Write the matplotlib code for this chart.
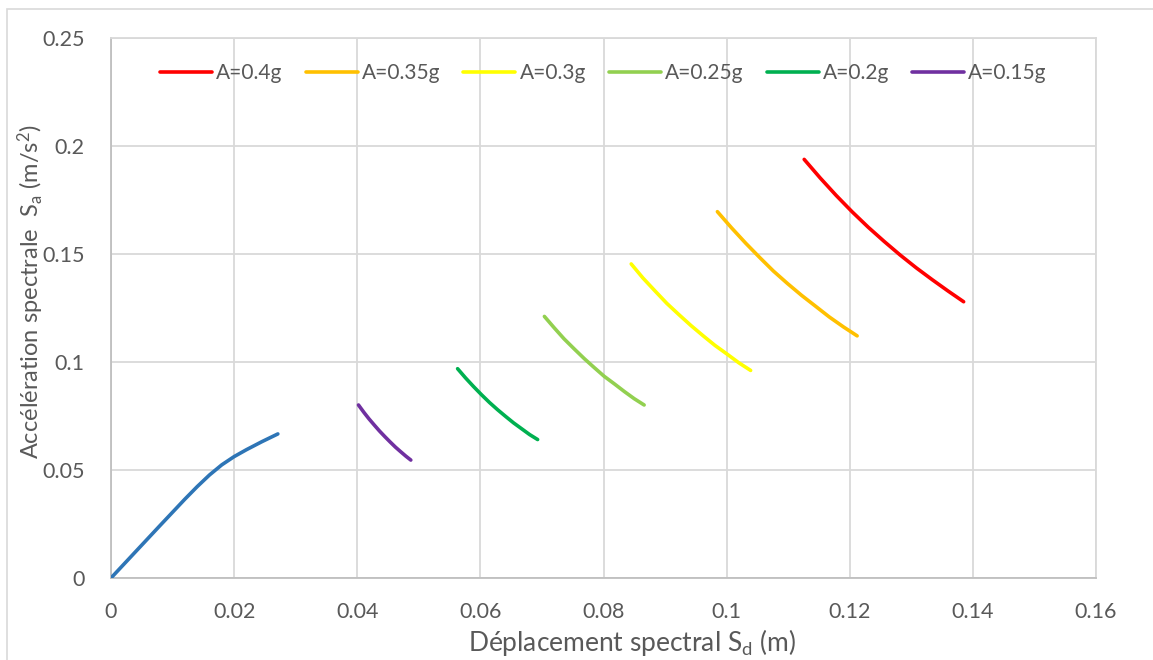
"""
Spectre de capacité (courbe bleue) et spectres de demande pour différentes accélérations A.
"""
import matplotlib.pyplot as plt
from matplotlib.patches import Rectangle

plt.rcParams.update(
    {
        "font.family": ["Lato", "DejaVu Sans"],
        "mathtext.default": "regular",
        "font.size": 14,
        "text.color": "#595959",
        "xtick.color": "#595959",
        "ytick.color": "#595959",
        "axes.labelcolor": "#595959",
    }
)

# courbe de capacité
cap_sd = [0.0, 0.004, 0.008, 0.012, 0.014, 0.016, 0.018, 0.020, 0.022, 0.0245, 0.0271]
cap_sa = [0.0, 0.0122, 0.0244, 0.0365, 0.0423, 0.0477, 0.0524, 0.0562, 0.0594, 0.0631, 0.0667]

# spectres de demande
labels = ["A=0.4g", "A=0.35g", "A=0.3g", "A=0.25g", "A=0.2g", "A=0.15g"]
colors = ["#FF0000", "#FFC000", "#FFFF00", "#92D050", "#00B050", "#7030A0"]

sd_04 = [0.1126, 0.1152, 0.1178, 0.1204, 0.1230, 0.1256, 0.1282, 0.1308, 0.1334, 0.1360, 0.1385]
sa_04 = [0.1938, 0.1852, 0.1771, 0.1695, 0.1624, 0.1558, 0.1495, 0.1436, 0.1381, 0.1328, 0.1279]
sd_035 = [0.0985, 0.1008, 0.1031, 0.1054, 0.1076, 0.1099, 0.1122, 0.1145, 0.1167, 0.1190, 0.1212]
sa_035 = [0.1696, 0.1621, 0.1550, 0.1483, 0.1421, 0.1363, 0.1308, 0.1257, 0.1208, 0.1162, 0.1121]
sd_03 = [0.0845, 0.0864, 0.0884, 0.0903, 0.0923, 0.0942, 0.0962, 0.0981, 0.1001, 0.1020, 0.1039]
sa_03 = [0.1454, 0.1389, 0.1328, 0.1271, 0.1218, 0.1169, 0.1121, 0.1077, 0.1036, 0.0996, 0.0961]
sd_025 = [0.0704, 0.0720, 0.0736, 0.0753, 0.0769, 0.0785, 0.0801, 0.0818, 0.0834, 0.0850, 0.0866]
sa_025 = [0.1211, 0.1158, 0.1107, 0.1059, 0.1015, 0.0974, 0.0934, 0.0898, 0.0863, 0.0830, 0.0801]
sd_02 = [0.0563, 0.0576, 0.0589, 0.0602, 0.0615, 0.0628, 0.0641, 0.0654, 0.0667, 0.0680, 0.0693]
sa_02 = [0.0969, 0.0926, 0.0886, 0.0848, 0.0812, 0.0779, 0.0748, 0.0718, 0.0691, 0.0664, 0.0641]
sd_015 = [0.0402, 0.0411, 0.0419, 0.0428, 0.0436, 0.0445, 0.0453, 0.0462, 0.0470, 0.0479, 0.0487]
sa_015 = [0.0801, 0.0766, 0.0737, 0.0707, 0.0681, 0.0654, 0.0631, 0.0606, 0.0586, 0.0564, 0.0546]

demand = [(sd_04, sa_04), (sd_035, sa_035), (sd_03, sa_03),
          (sd_025, sa_025), (sd_02, sa_02), (sd_015, sa_015)]

x_ticks = [0, 0.02, 0.04, 0.06, 0.08, 0.1, 0.12, 0.14, 0.16]
x_ticklabels = ["0", "0.02", "0.04", "0.06", "0.08", "0.1", "0.12", "0.14", "0.16"]
y_ticks = [0, 0.05, 0.1, 0.15, 0.2, 0.25]
y_ticklabels = ["0", "0.05", "0.1", "0.15", "0.2", "0.25"]

fig = plt.figure(figsize=(11.53, 6.60), dpi=100)
fig.patches.append(Rectangle((7 / 1153, -0.1), 1.2, 1.1 - 9 / 660, transform=fig.transFigure,
                             fill=False, ec="#d9d9d9", lw=1.2))
ax = fig.add_axes([111 / 1153, 1 - 578 / 660, 985 / 1153, 540 / 660])

ax.plot(cap_sd, cap_sa, color="#2E75B6", lw=2.6, solid_capstyle="round", zorder=3)
for (sd, sa), c, lab in zip(demand, colors, labels):
    ax.plot(sd, sa, color=c, lw=2.6, solid_capstyle="round", label=lab, zorder=3)

ax.set_xlim(0, 0.16)
ax.set_ylim(0, 0.25)
ax.set_xticks(x_ticks, x_ticklabels)
ax.set_yticks(y_ticks, y_ticklabels)
ax.tick_params(length=0, labelsize=15.5)
ax.tick_params(axis="x", pad=17)
ax.tick_params(axis="y", pad=19)
ax.grid(color="#d9d9d9", lw=1.3)
for s in ax.spines.values():
    s.set_color("#d9d9d9")
    s.set_linewidth(1.3)
ax.spines["bottom"].set_color("#bfbfbf")
ax.spines["left"].set_color("#bfbfbf")

ax.set_xlabel("Déplacement spectral S$_d$ (m)", fontsize=19)
ax.set_ylabel("Accélération spectrale  S$_a$ (m/s$^2$)", fontsize=17)
ax.xaxis.set_label_coords(0.529, -0.09)
ax.yaxis.set_label_coords(-0.066, 0.53)

ax.legend(loc="center", bbox_to_anchor=(0.5, 0.935), ncol=6, frameon=False,
          handlelength=2.5, handletextpad=0.2, columnspacing=1.1, fontsize=15)

plt.savefig("out.png", dpi=100)
